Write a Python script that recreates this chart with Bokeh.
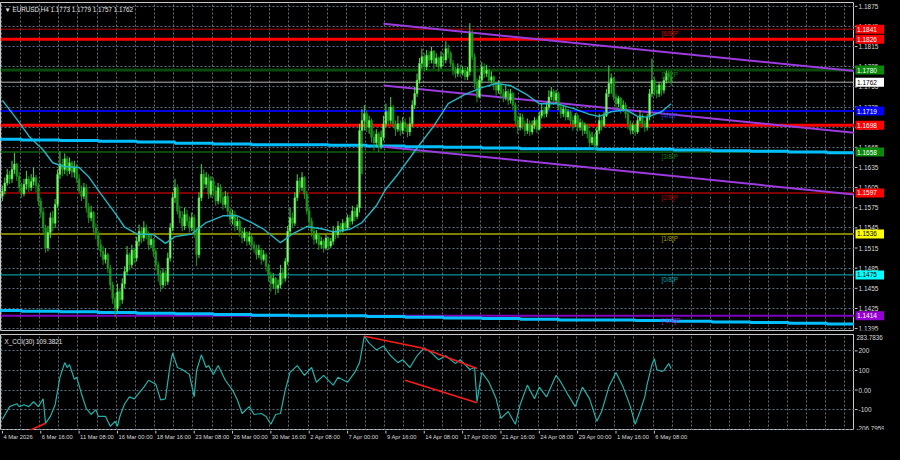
from bokeh.plotting import figure
from bokeh.layouts import column, row
from bokeh.models import ColumnDataSource, FixedTicker, Range1d, Label, Grid, Spacer
from bokeh.core.properties import value
from bokeh.embed import file_html
from bokeh.resources import INLINE

FONT = "Liberation Sans"
BG = "#000000"
GRIDC = "#6a7a8a"
AX = "#c8c8c8"
LBL = "#d8d8d8"

# ---------------- data (EURUSD H4) ----------------
first_open = 1.1592
close = [
    1.1600, 1.1612, 1.1624, 1.1618, 1.1632, 1.1640, 1.1622, 1.1605, 1.1596, 1.1610,
    1.1618, 1.1605, 1.1614, 1.1620, 1.1608, 1.1585, 1.1568, 1.1545, 1.1515, 1.1538,
    1.1560, 1.1552, 1.1580, 1.1625, 1.1640, 1.1632, 1.1648, 1.1630, 1.1642, 1.1628,
    1.1636, 1.1618, 1.1600, 1.1592, 1.1605, 1.1575, 1.1560, 1.1568, 1.1545, 1.1535,
    1.1520, 1.1510, 1.1498, 1.1505, 1.1485, 1.1460, 1.1440, 1.1425, 1.1450, 1.1438,
    1.1462, 1.1480, 1.1505, 1.1490, 1.1512, 1.1500, 1.1525, 1.1540, 1.1530, 1.1545,
    1.1535, 1.1520, 1.1528, 1.1510, 1.1490, 1.1475, 1.1460, 1.1478, 1.1465, 1.1500,
    1.1545, 1.1590, 1.1605, 1.1570, 1.1560, 1.1548, 1.1565, 1.1555, 1.1545, 1.1560,
    1.1540, 1.1505, 1.1590, 1.1625, 1.1610, 1.1620, 1.1595, 1.1615, 1.1600, 1.1585,
    1.1605, 1.1590, 1.1580, 1.1592, 1.1570, 1.1558, 1.1565, 1.1548, 1.1555, 1.1540,
    1.1530, 1.1538, 1.1525, 1.1532, 1.1520, 1.1515, 1.1505, 1.1512, 1.1498, 1.1505,
    1.1488, 1.1475, 1.1462, 1.1470, 1.1455, 1.1460, 1.1478, 1.1470, 1.1495, 1.1540,
    1.1560, 1.1552, 1.1590, 1.1615, 1.1605, 1.1620, 1.1595, 1.1570, 1.1555, 1.1540,
    1.1528, 1.1535, 1.1520, 1.1525, 1.1515, 1.1530, 1.1518, 1.1525, 1.1540, 1.1535,
    1.1548, 1.1540, 1.1552, 1.1545, 1.1560, 1.1555, 1.1570, 1.1562, 1.1575, 1.1690,
    1.1705, 1.1715, 1.1695, 1.1705, 1.1680, 1.1672, 1.1685, 1.1668, 1.1680, 1.1700,
    1.1718, 1.1705, 1.1725, 1.1700, 1.1692, 1.1700, 1.1690, 1.1702, 1.1695, 1.1688,
    1.1700, 1.1728, 1.1745, 1.1765, 1.1790, 1.1800, 1.1785, 1.1802, 1.1795, 1.1808,
    1.1790, 1.1798, 1.1785, 1.1800, 1.1795, 1.1812, 1.1805, 1.1790, 1.1780, 1.1775,
    1.1782, 1.1776, 1.1780, 1.1770, 1.1778, 1.1835, 1.1800, 1.1760, 1.1740, 1.1765,
    1.1785, 1.1775, 1.1780, 1.1765, 1.1770, 1.1758, 1.1750, 1.1758, 1.1745, 1.1740,
    1.1748, 1.1735, 1.1745, 1.1728, 1.1705, 1.1695, 1.1710, 1.1700, 1.1690, 1.1700,
    1.1688, 1.1698, 1.1705, 1.1692, 1.1712, 1.1720, 1.1715, 1.1725, 1.1740, 1.1748,
    1.1735, 1.1745, 1.1725, 1.1715, 1.1722, 1.1710, 1.1718, 1.1705, 1.1700, 1.1712,
    1.1695, 1.1702, 1.1690, 1.1698, 1.1685, 1.1672, 1.1680, 1.1668, 1.1690, 1.1705,
    1.1698, 1.1712, 1.1745, 1.1760, 1.1768, 1.1740, 1.1730, 1.1738, 1.1722, 1.1728,
    1.1715, 1.1700, 1.1690, 1.1698, 1.1688, 1.1705, 1.1712, 1.1700, 1.1695, 1.1710,
    1.1745, 1.1765, 1.1750, 1.1745, 1.1758, 1.1750, 1.1765, 1.1775, 1.1770, 1.1762,
]
high = [
    1.1608, 1.1620, 1.1633, 1.1630, 1.1645, 1.1657, 1.1642, 1.1628, 1.1612, 1.1618,
    1.1630, 1.1622, 1.1625, 1.1635, 1.1624, 1.1612, 1.1590, 1.1575, 1.1550, 1.1548,
    1.1568, 1.1570, 1.1588, 1.1632, 1.1659, 1.1648, 1.1656, 1.1652, 1.1650, 1.1645,
    1.1645, 1.1640, 1.1625, 1.1608, 1.1612, 1.1610, 1.1582, 1.1578, 1.1570, 1.1552,
    1.1540, 1.1528, 1.1518, 1.1515, 1.1508, 1.1490, 1.1465, 1.1448, 1.1462, 1.1455,
    1.1470, 1.1488, 1.1518, 1.1508, 1.1520, 1.1515, 1.1532, 1.1550, 1.1545, 1.1555,
    1.1550, 1.1540, 1.1535, 1.1530, 1.1515, 1.1495, 1.1482, 1.1485, 1.1482, 1.1508,
    1.1552, 1.1598, 1.1618, 1.1610, 1.1578, 1.1570, 1.1575, 1.1572, 1.1562, 1.1568,
    1.1565, 1.1545, 1.1598, 1.1640, 1.1632, 1.1628, 1.1625, 1.1622, 1.1620, 1.1608,
    1.1612, 1.1610, 1.1598, 1.1600, 1.1598, 1.1575, 1.1572, 1.1570, 1.1562, 1.1558,
    1.1545, 1.1545, 1.1540, 1.1540, 1.1535, 1.1525, 1.1520, 1.1520, 1.1515, 1.1512,
    1.1508, 1.1492, 1.1480, 1.1478, 1.1472, 1.1468, 1.1490, 1.1485, 1.1500, 1.1548,
    1.1575, 1.1568, 1.1598, 1.1625, 1.1620, 1.1628, 1.1622, 1.1600, 1.1575, 1.1560,
    1.1545, 1.1542, 1.1538, 1.1532, 1.1528, 1.1535, 1.1532, 1.1530, 1.1548, 1.1545,
    1.1555, 1.1552, 1.1558, 1.1555, 1.1565, 1.1565, 1.1578, 1.1575, 1.1580, 1.1700,
    1.1722, 1.1728, 1.1720, 1.1712, 1.1708, 1.1690, 1.1692, 1.1688, 1.1690, 1.1712,
    1.1730, 1.1725, 1.1740, 1.1728, 1.1705, 1.1712, 1.1705, 1.1710, 1.1708, 1.1700,
    1.1710, 1.1735, 1.1755, 1.1775, 1.1798, 1.1812, 1.1805, 1.1810, 1.1808, 1.1815,
    1.1810, 1.1805, 1.1800, 1.1808, 1.1805, 1.1823, 1.1818, 1.1808, 1.1795, 1.1785,
    1.1790, 1.1788, 1.1786, 1.1784, 1.1785, 1.1850, 1.1840, 1.1805, 1.1768, 1.1772,
    1.1792, 1.1790, 1.1788, 1.1782, 1.1778, 1.1772, 1.1762, 1.1765, 1.1760, 1.1752,
    1.1756, 1.1752, 1.1752, 1.1748, 1.1732, 1.1712, 1.1716, 1.1715, 1.1705, 1.1708,
    1.1705, 1.1705, 1.1710, 1.1708, 1.1718, 1.1730, 1.1726, 1.1732, 1.1750, 1.1755,
    1.1752, 1.1750, 1.1748, 1.1730, 1.1728, 1.1725, 1.1722, 1.1720, 1.1712, 1.1716,
    1.1715, 1.1708, 1.1705, 1.1702, 1.1700, 1.1690, 1.1688, 1.1685, 1.1695, 1.1715,
    1.1710, 1.1718, 1.1752, 1.1787, 1.1775, 1.1770, 1.1745, 1.1742, 1.1740, 1.1735,
    1.1732, 1.1720, 1.1705, 1.1702, 1.1700, 1.1710, 1.1720, 1.1715, 1.1705, 1.1715,
    1.1752, 1.1797, 1.1770, 1.1758, 1.1762, 1.1762, 1.1770, 1.1779, 1.1779, 1.1779,
]
low = [
    1.1585, 1.1595, 1.1608, 1.1610, 1.1612, 1.1625, 1.1615, 1.1598, 1.1590, 1.1592,
    1.1602, 1.1598, 1.1600, 1.1608, 1.1598, 1.1578, 1.1560, 1.1535, 1.1508, 1.1510,
    1.1530, 1.1540, 1.1545, 1.1575, 1.1618, 1.1622, 1.1625, 1.1622, 1.1625, 1.1620,
    1.1620, 1.1612, 1.1595, 1.1585, 1.1588, 1.1568, 1.1552, 1.1555, 1.1538, 1.1528,
    1.1512, 1.1502, 1.1490, 1.1492, 1.1478, 1.1452, 1.1432, 1.1412, 1.1420, 1.1428,
    1.1432, 1.1455, 1.1475, 1.1482, 1.1485, 1.1492, 1.1495, 1.1518, 1.1522, 1.1525,
    1.1528, 1.1512, 1.1515, 1.1502, 1.1482, 1.1465, 1.1450, 1.1455, 1.1458, 1.1460,
    1.1495, 1.1540, 1.1582, 1.1565, 1.1552, 1.1540, 1.1542, 1.1548, 1.1538, 1.1540,
    1.1530, 1.1488, 1.1500, 1.1585, 1.1602, 1.1605, 1.1588, 1.1590, 1.1592, 1.1578,
    1.1580, 1.1582, 1.1572, 1.1575, 1.1562, 1.1550, 1.1550, 1.1540, 1.1542, 1.1532,
    1.1522, 1.1525, 1.1518, 1.1520, 1.1512, 1.1508, 1.1498, 1.1500, 1.1490, 1.1495,
    1.1480, 1.1465, 1.1450, 1.1455, 1.1445, 1.1448, 1.1455, 1.1462, 1.1465, 1.1490,
    1.1535, 1.1545, 1.1548, 1.1585, 1.1598, 1.1600, 1.1588, 1.1565, 1.1548, 1.1532,
    1.1520, 1.1522, 1.1512, 1.1515, 1.1508, 1.1512, 1.1512, 1.1515, 1.1520, 1.1528,
    1.1530, 1.1535, 1.1538, 1.1540, 1.1542, 1.1548, 1.1550, 1.1555, 1.1558, 1.1568,
    1.1625, 1.1690, 1.1688, 1.1685, 1.1672, 1.1660, 1.1665, 1.1658, 1.1662, 1.1675,
    1.1695, 1.1698, 1.1700, 1.1695, 1.1682, 1.1688, 1.1682, 1.1685, 1.1688, 1.1680,
    1.1682, 1.1695, 1.1722, 1.1740, 1.1760, 1.1782, 1.1778, 1.1780, 1.1788, 1.1790,
    1.1782, 1.1785, 1.1778, 1.1782, 1.1786, 1.1790, 1.1798, 1.1785, 1.1772, 1.1768,
    1.1770, 1.1770, 1.1772, 1.1765, 1.1765, 1.1772, 1.1795, 1.1752, 1.1732, 1.1738,
    1.1760, 1.1768, 1.1770, 1.1760, 1.1760, 1.1750, 1.1742, 1.1745, 1.1738, 1.1732,
    1.1735, 1.1728, 1.1730, 1.1720, 1.1698, 1.1685, 1.1690, 1.1692, 1.1682, 1.1685,
    1.1682, 1.1684, 1.1692, 1.1686, 1.1690, 1.1708, 1.1708, 1.1710, 1.1720, 1.1735,
    1.1728, 1.1730, 1.1720, 1.1708, 1.1710, 1.1705, 1.1706, 1.1698, 1.1690, 1.1695,
    1.1688, 1.1690, 1.1682, 1.1685, 1.1678, 1.1665, 1.1668, 1.1661, 1.1665, 1.1685,
    1.1690, 1.1695, 1.1710, 1.1740, 1.1745, 1.1735, 1.1722, 1.1725, 1.1715, 1.1718,
    1.1708, 1.1692, 1.1684, 1.1685, 1.1682, 1.1685, 1.1700, 1.1695, 1.1688, 1.1690,
    1.1705, 1.1740, 1.1742, 1.1738, 1.1740, 1.1742, 1.1745, 1.1760, 1.1762, 1.1757,
]

# moving average (thin turquoise line), read at selected bars
ma_bars = [0, 6, 11, 17, 21, 26, 32, 36, 41, 47, 51, 56, 63, 68, 72, 79, 85, 92, 98, 104,
           109, 116, 121, 127, 134, 138, 145, 150, 156, 160, 165, 173, 180, 186, 193, 200, 206, 212, 219, 224,
           231, 238, 245, 249, 254, 260, 265, 269, 275, 279]
ma_vals = [1.1735, 1.1707, 1.1682, 1.1661, 1.1642, 1.1636, 1.1635, 1.1621, 1.1596, 1.1567,
           1.1546, 1.1536, 1.1535, 1.1522, 1.1532, 1.1536, 1.1553, 1.1563, 1.1563, 1.1553,
           1.1543, 1.1523, 1.1536, 1.1547, 1.1543, 1.1539, 1.1543, 1.1553, 1.1578, 1.1603,
           1.1625, 1.1664, 1.1697, 1.1730, 1.1744, 1.1754, 1.1760, 1.1757, 1.1743, 1.1730,
           1.1730, 1.1723, 1.1714, 1.1711, 1.1718, 1.1721, 1.1711, 1.1710, 1.1718, 1.1730]

# stepped slow lines (deep sky blue)
step_bars = [-2, 8, 24, 40, 56, 72, 88, 104, 120, 136, 152, 168, 184, 200, 216, 232, 248, 264, 280, 296, 312, 328, 344, 360]
step_upper = [1.1677, 1.1676, 1.1675, 1.1674, 1.1673, 1.1671, 1.1670, 1.1669, 1.1669, 1.1668, 1.1667, 1.1666,
              1.1665, 1.1664, 1.1663, 1.1663, 1.1662, 1.1662, 1.1661, 1.1660, 1.1659, 1.1658, 1.1657, 1.1657]
step_lower = [1.1422, 1.1421, 1.1420, 1.1419, 1.1418, 1.1417, 1.1416, 1.1415, 1.1414, 1.1414, 1.1413, 1.1412,
              1.1411, 1.1410, 1.1409, 1.1408, 1.1408, 1.1407, 1.1406, 1.1405, 1.1404, 1.1403, 1.1402, 1.1402]

# descending channel (purple)
channel_bars = [159, 360]
channel_upper = [1.1849, 1.1777]
channel_mid = [1.1757, 1.1685]
channel_lower = [1.1666, 1.1593]

# Murrey levels
murray_levels = [1.1841, 1.1780, 1.1719, 1.1658, 1.1597, 1.1536, 1.1475, 1.1414]
murray_names = ["[6/8]P", "[5/8]P", "[4/8]P", "[3/8]P", "[2/8]P", "[1/8]P", "[0/8]P", "[-1/8]P"]
murray_line_colors = ["#b00000", "#0b4a0b", "#0000e6", "#0b4a0b", "#800000", "#808000", "#00b8c0", "#8000c0"]
murray_line_widths = [1, 3, 2, 2, 2, 2, 1, 2]
murray_text_colors = ["#d00000", "#138013", "#2a3ae0", "#138013", "#b00000", "#9a9a00", "#00a8b0", "#9a20d8"]

sr_levels = [1.1826, 1.1698]
current_price = 1.1762

tag_values = [1.1841, 1.1826, 1.1780, 1.1762, 1.1719, 1.1698, 1.1658, 1.1597, 1.1536, 1.1475, 1.1414]
tag_bg = ["#ff0000", "#ff0000", "#0a8a0a", "#ffffff", "#0000ff", "#ff0000", "#0a8a0a", "#ff0000", "#ffff00", "#00ffff", "#9400d3"]
tag_fg = ["#ffffff", "#ffffff", "#ffffff", "#000000", "#ffffff", "#ffffff", "#ffffff", "#ffffff", "#000000", "#000000", "#ffffff"]

price_ticks = [1.1395, 1.1425, 1.1455, 1.1485, 1.1515, 1.1545, 1.1575, 1.1605, 1.1635, 1.1665,
               1.1695, 1.1725, 1.1755, 1.1785, 1.1815, 1.1845, 1.1875]
price_tick_labels = ["1.1395", "1.1425", "1.1455", "1.1485", "1.1515", "1.1545", "1.1575", "1.1605", "1.1635",
                     "1.1665", "1.1695", "1.1725", "1.1755", "1.1785", "1.1815", "1.1845", "1.1875"]

time_label_bars = [0, 16, 32, 48, 64, 80, 96, 112, 128, 144, 160, 176, 192, 208, 224, 240, 256, 272]
time_labels = ["4 Mar 2026", "6 Mar 16:00", "11 Mar 08:00", "16 Mar 00:00", "18 Mar 16:00", "23 Mar 08:00",
               "26 Mar 00:00", "30 Mar 16:00", "2 Apr 08:00", "7 Apr 00:00", "9 Apr 16:00", "14 Apr 08:00",
               "17 Apr 00:00", "21 Apr 16:00", "24 Apr 08:00", "29 Apr 00:00", "1 May 16:00", "6 May 08:00"]

# CCI sub-window
cci_bars = [0, 3, 6, 7, 9, 11, 13, 15, 17, 18,
            20, 22, 24, 26, 27, 28, 30, 31, 33, 35,
            37, 39, 40, 43, 45, 47, 48, 49, 51, 53,
            55, 59, 61, 64, 66, 68, 70, 71, 73, 75,
            78, 80, 81, 83, 85, 86, 88, 90, 93, 96,
            98, 100, 103, 105, 108, 110, 112, 114, 116, 118,
            120, 123, 126, 129, 131, 134, 138, 140, 144, 147,
            149, 151, 153, 156, 159, 162, 165, 167, 170, 173,
            176, 179, 182, 185, 189, 191, 195, 197, 198, 200,
            203, 206, 208, 211, 214, 216, 219, 222, 224, 227,
            231, 233, 236, 239, 242, 245, 248, 250, 253, 256,
            259, 262, 264, 266, 268, 269, 271, 272, 273, 275,
            276, 278, 279]
cci_vals = [-150, -85, -70, -85, -75, -85, -60, -85, -45, -170,
            -135, -75, 65, 140, 115, 130, 55, 65, -20, -95,
            -125, -100, -135, -135, -185, -160, -185, -135, -70, -35,
            -45, 15, 50, 30, -50, -45, 130, 190, 115, 105,
            80, -35, 100, 180, 115, 125, 80, 125, 50, 0,
            -50, -120, -85, -125, -120, -135, -175, -125, -120, 0,
            90, 125, 75, 115, 40, 75, 25, 65, 40, 90,
            140, 275, 240, 205, 225, 175, 140, 155, 115, 175,
            215, 190, 155, 175, 135, 155, 105, 115, -60, 90,
            40, -45, -145, -110, -175, -75, 25, -45, 15, -35,
            75, 40, -25, -85, 15, -45, -160, -110, 15, 90,
            15, -85, -175, -110, -35, 30, 130, 160, 105, 95,
            100, 135, 109.3821]
cci_max = 283.7836
cci_min = -206.7959
cci_ticks = [200, 100, 0, -100]
cci_tick_labels = ["200", "100", "0.00", "-100"]
cci_grid = [200, 100, 0, -100, -200]
cci_extreme_vals = [cci_max, cci_min]
cci_extreme_labels = ["283.7836", "-206.7959"]

div_x0 = [151, 175, 168, 8]
div_y0 = [275, 215, 50, -225]
div_x1 = [175, 198, 198, 18]
div_y1 = [215, 110, -65, -170]

# ---------------- derived ----------------
n = len(close)
bars = list(range(n))
opens = [first_open] + close[:-1]
hi = [max(h, o, c) for h, o, c in zip(high, opens, close)]
lo = [min(l, o, c) for l, o, c in zip(low, opens, close)]
up = [c >= o for o, c in zip(opens, close)]
top, bot = [], []
for o, c in zip(opens, close):
    t, b = max(o, c), min(o, c)
    if t - b < 0.00004:
        t += 0.00002
        b -= 0.00002
    top.append(t)
    bot.append(b)
src = ColumnDataSource(dict(
    x=bars, hi=hi, lo=lo, top=top, bot=bot,
    fill=["#8cff6e" if u else "#1c961c" for u in up],
    line=["#46dc46" if u else "#1c961c" for u in up],
))

X0, X1 = -0.8, 355.5
Y0, Y1 = 1.13922, 1.18807
grid_x = [8 * k - 0.5 for k in range(46)]
MAIN_W, STRIP_W = 854, 30
MAIN_H, CCI_H, TIME_H = 332, 98, 14


def base(fig, outline=True):
    fig.background_fill_color = BG
    fig.border_fill_color = BG
    fig.outline_line_color = AX if outline else None
    fig.outline_line_width = 1
    for g in fig.grid:
        g.visible = False


def add_grid(fig, dim, ticks):
    g = Grid(dimension=dim, ticker=FixedTicker(ticks=ticks), grid_line_color=GRIDC,
             grid_line_dash="2 2", grid_line_width=1, grid_line_alpha=0.9)
    fig.add_layout(g, "center")


def make_strip(width, height, x_range, y_range):
    s = figure(width=width, height=height, x_range=x_range, y_range=y_range,
               output_backend="svg", toolbar_location=None, x_axis_location=None, y_axis_location=None,
               min_border_left=0, min_border_right=0, min_border_top=0, min_border_bottom=0)
    base(s, outline=False)
    return s


# ---------------- main price window ----------------
p = figure(width=MAIN_W, height=MAIN_H, x_range=Range1d(X0, X1), y_range=Range1d(Y0, Y1),
           output_backend="svg", toolbar_location=None, x_axis_location=None, y_axis_location=None,
           min_border_left=0, min_border_right=0, min_border_top=2, min_border_bottom=2)
base(p)
add_grid(p, 0, grid_x)
add_grid(p, 1, price_ticks)

for lvl, col, w in zip(murray_levels, murray_line_colors, murray_line_widths):
    p.line([X0, X1], [lvl, lvl], line_color=col, line_width=w)
for lvl in sr_levels:
    p.line([X0, X1], [lvl, lvl], line_color="#ff0000", line_width=3)
p.line([X0, X1], [current_price, current_price], line_color="#b4b4b4", line_width=1)

p.step(step_bars, step_upper, mode="after", line_color="#00bfff", line_width=3)
p.step(step_bars, step_lower, mode="after", line_color="#00bfff", line_width=3)

for ch in (channel_upper, channel_mid, channel_lower):
    p.line(channel_bars, ch, line_color="#9b3be0", line_width=2)

p.segment(x0="x", y0="lo", x1="x", y1="hi", source=src, line_color="line", line_width=1)
p.vbar(x="x", top="top", bottom="bot", width=0.72, source=src, fill_color="fill", line_color="line", line_width=0.6)

p.line(ma_bars, ma_vals, line_color="#20b8c8", line_width=1.4)

p.text(x=[275] * len(murray_levels), y=murray_levels, text=murray_names, text_color=murray_text_colors,
       text_font=value(FONT), text_font_size="6.3px", text_baseline="top", y_offset=1)

p.add_layout(Label(x=4, y=Y1, x_units="screen", y_units="data", y_offset=-3,
                   text="\u25BC EURUSD,H4  1.1773 1.1779 1.1757 1.1762", text_baseline="top",
                   text_color="#e6e6e6", text_font=FONT, text_font_size="6.3px"))

# price scale strip (right); same top/bottom borders as the price window
ps = figure(width=STRIP_W, height=MAIN_H, x_range=Range1d(0, STRIP_W), y_range=p.y_range,
            output_backend="svg", toolbar_location=None, x_axis_location=None, y_axis_location=None,
            min_border_left=0, min_border_right=0, min_border_top=2, min_border_bottom=2)
base(ps, outline=False)
ps.segment(x0=[0] * len(price_ticks), y0=price_ticks, x1=[3] * len(price_ticks), y1=price_ticks,
           line_color=AX, line_width=1)
ps.text(x=[4] * len(price_ticks), y=price_ticks, text=price_tick_labels, text_color=LBL,
        text_font=value(FONT), text_font_size="6.5px", text_baseline="middle")
tag_text = [f"{v:.4f}" for v in tag_values]
ps.rect(x=[15.5] * len(tag_values), y=tag_values, width=29, height=9, height_units="screen",
        fill_color=tag_bg, line_color=None)
ps.text(x=[2.5] * len(tag_values), y=tag_values, text=tag_text, text_color=tag_fg,
        text_font=value(FONT), text_font_size="6.5px", text_baseline="middle")

# ---------------- CCI window ----------------
q = figure(width=MAIN_W, height=CCI_H, x_range=p.x_range, y_range=Range1d(cci_min, cci_max),
           output_backend="svg", toolbar_location=None, x_axis_location=None, y_axis_location=None,
           min_border_left=0, min_border_right=0, min_border_top=2, min_border_bottom=0)
base(q)
add_grid(q, 0, grid_x)
add_grid(q, 1, cci_grid)

q.line(cci_bars, cci_vals, line_color="#20b2aa", line_width=1.2)
q.segment(x0=div_x0, y0=div_y0, x1=div_x1, y1=div_y1, line_color="#ff1a1a", line_width=1.5)

q.add_layout(Label(x=4, y=cci_max, x_units="screen", y_units="data", y_offset=-3,
                   text="X_CCI(30) 109.3821", text_baseline="top",
                   text_color="#e6e6e6", text_font=FONT, text_font_size="6.3px"))

cs = figure(width=STRIP_W, height=CCI_H, x_range=Range1d(0, STRIP_W), y_range=q.y_range,
            output_backend="svg", toolbar_location=None, x_axis_location=None, y_axis_location=None,
            min_border_left=0, min_border_right=0, min_border_top=2, min_border_bottom=0)
base(cs, outline=False)
cs.segment(x0=[0] * len(cci_ticks), y0=cci_ticks, x1=[3] * len(cci_ticks), y1=cci_ticks,
           line_color=AX, line_width=1)
cs.text(x=[4] * len(cci_ticks), y=cci_ticks, text=cci_tick_labels, text_color=LBL,
        text_font=value(FONT), text_font_size="6.5px", text_baseline="middle")
cs.text(x=[2, 2], y=cci_extreme_vals, text=cci_extreme_labels, text_color=LBL,
        text_font=value(FONT), text_font_size="6.3px", text_baseline=["top", "bottom"])

# ---------------- time scale strip (bottom) ----------------
ts = make_strip(MAIN_W, TIME_H, p.x_range, Range1d(0, TIME_H))
ts.segment(x0=time_label_bars, y0=[TIME_H] * len(time_label_bars), x1=time_label_bars,
           y1=[TIME_H - 3] * len(time_label_bars), line_color=AX, line_width=1)
ts.text(x=time_label_bars, y=[TIME_H - 3] * len(time_label_bars), text=time_labels, text_color=LBL,
        text_font=value(FONT), text_font_size="5.8px", text_baseline="top", text_align="left", x_offset=1)

layout = column(row(p, ps, spacing=0), row(q, cs, spacing=0),
                row(ts, Spacer(width=STRIP_W, height=TIME_H), spacing=0), spacing=0,
                styles={"background-color": "black", "box-shadow": "0 0 0 16px black"})
open("out.html", "w").write(file_html(layout, INLINE))
